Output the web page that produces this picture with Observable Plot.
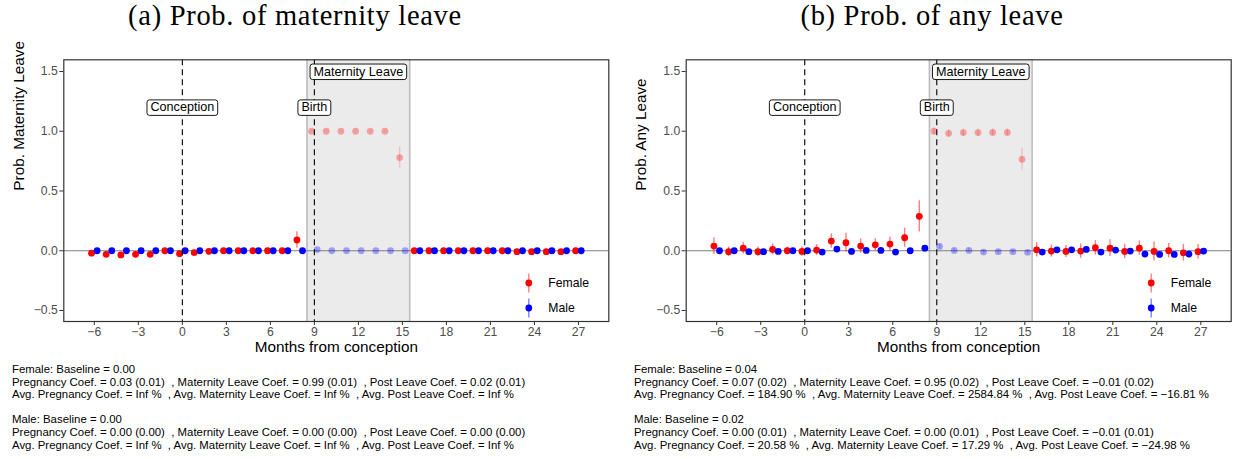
<!DOCTYPE html>
<html>
<head>
<meta charset="utf-8">
<script src="https://cdn.jsdelivr.net/npm/d3@7"></script>
<script src="https://cdn.jsdelivr.net/npm/@observablehq/plot@0.6"></script>
<style>
  body { margin: 0; background: #fff; }
  #page { position: relative; width: 1235px; height: 459px; overflow: hidden; font-family: "Liberation Sans", Arial, sans-serif; }
  .title { position: absolute; top: 0; font-family: "Liberation Serif", serif; font-size: 28.5px; letter-spacing: 0.7px; line-height: 32px; white-space: nowrap; transform: translateX(-50%); color: #000; }
  .panel { position: absolute; top: 40px; }
  .panel svg { overflow: visible; }
  .caption { position: absolute; top: 363px; font-size: 11.4px; line-height: 12.6px; white-space: pre; color: #000; }
</style>
</head>
<body>
<div id="page">
  <div class="title" style="left:295px">(a) Prob. of maternity leave</div>
  <div class="title" style="left:932px">(b) Prob. of any leave</div>
  <div class="panel" id="panelA" style="left:0px"></div>
  <div class="panel" id="panelB" style="left:622px"></div>
  <div class="caption" id="capA" style="left:12px"></div>
  <div class="caption" id="capB" style="left:634px"></div>
</div>
<script>
// Months relative to conception
const months = [-6,-5,-4,-3,-2,-1,0,1,2,3,4,5,6,7,8,9,10,11,12,13,14,15,16,17,18,19,20,21,22,23,24,25,26,27];

// (a) Probability of maternity leave: estimates and 95% CI half-widths
const femaleMaternity   = [-0.02,-0.03,-0.035,-0.03,-0.03,0.0,-0.025,-0.015,-0.005,0.0,0.0,0.0,0.0,0.0,0.09, 1.0,1.0,1.0,1.0,1.0,1.0,0.78, 0,0,0,0,0,0,0,-0.008,-0.008,-0.008,-0.008,0];
const femaleMaternityCI = [0.008,0.008,0.008,0.008,0.008,0.006,0.008,0.008,0.006,0.005,0.005,0.005,0.005,0.005,0.07, 0.005,0.005,0.005,0.005,0.005,0.005,0.09, 0.005,0.005,0.005,0.005,0.005,0.005,0.005,0.006,0.006,0.006,0.006,0.005];
const maleMaternity     = [0,0,0,0,0,0,0,0,0,0,0,0,0,0,0, 0.01,0,0,0,0,0,0, 0,0,0,0,0,0,0,0,0,0,0,0];
const maleMaternityCI   = [0.003,0.003,0.003,0.003,0.003,0.003,0.003,0.003,0.003,0.003,0.003,0.003,0.003,0.003,0.003, 0.004,0.003,0.003,0.003,0.003,0.003,0.003, 0.003,0.003,0.003,0.003,0.003,0.003,0.003,0.003,0.003,0.003,0.003,0.003];

// (b) Probability of any leave
const femaleAny   = [0.039,-0.008,0.022,-0.008,0.011,0.0,-0.006,0.006,0.081,0.067,0.039,0.05,0.056,0.109,0.288, 1.0,0.983,0.989,0.989,0.99,0.99,0.765, 0.008,-0.003,-0.006,-0.003,0.025,0.022,-0.006,0.022,-0.006,0.0,-0.017,-0.008];
const femaleAnyCI = [0.07,0.04,0.05,0.04,0.045,0.03,0.04,0.045,0.06,0.08,0.06,0.05,0.06,0.08,0.13, 0.03,0.03,0.03,0.03,0.03,0.03,0.095, 0.06,0.05,0.05,0.06,0.06,0.07,0.06,0.06,0.08,0.06,0.07,0.06];
const maleAny     = [0,0,-0.008,-0.008,-0.006,0,0,-0.011,0.014,-0.006,0.003,0.003,-0.011,0,0.022, 0.036,0.003,0.003,-0.011,-0.008,-0.008,-0.014, -0.011,0.008,0.008,0.011,-0.011,0.006,-0.003,-0.028,-0.031,-0.031,-0.028,-0.003];
const maleAnyCI   = [0.015,0.015,0.015,0.015,0.015,0.015,0.015,0.015,0.015,0.015,0.015,0.015,0.015,0.015,0.015, 0.02,0.015,0.015,0.015,0.015,0.015,0.015, 0.02,0.02,0.02,0.02,0.02,0.02,0.02,0.025,0.025,0.025,0.025,0.02];

// Leave window and event markers
const leaveWindow = [8.5, 15.5];
const eventLines  = [0, 9];
const eventLabels = ["Conception", "Birth", "Maternity Leave"];
const eventMonths = [0, 9, 12];
const eventLevels = [1.2, 1.2, 1.5];

const xTicks = [-6,-3,0,3,6,9,12,15,18,21,24,27];
const yTicks = [-0.5,0,0.5,1,1.5];

const sexes  = ["Female", "Male"];
const colors = ["#ff0000", "#0000ff"];
const dodge  = [-0.19, 0.19];

// Summary text under each panel
const captionA = [
  "Female: Baseline = 0.00",
  "Pregnancy Coef. = 0.03 (0.01)  , Maternity Leave Coef. = 0.99 (0.01)  , Post Leave Coef. = 0.02 (0.01)",
  "Avg. Pregnancy Coef. = Inf %  , Avg. Maternity Leave Coef. = Inf %  , Avg. Post Leave Coef. = Inf %",
  "",
  "Male: Baseline = 0.00",
  "Pregnancy Coef. = 0.00 (0.00)  , Maternity Leave Coef. = 0.00 (0.00)  , Post Leave Coef. = 0.00 (0.00)",
  "Avg. Pregnancy Coef. = Inf %  , Avg. Maternity Leave Coef. = Inf %  , Avg. Post Leave Coef. = Inf %"
];
const captionB = [
  "Female: Baseline = 0.04",
  "Pregnancy Coef. = 0.07 (0.02)  , Maternity Leave Coef. = 0.95 (0.02)  , Post Leave Coef. = \u22120.01 (0.02)",
  "Avg. Pregnancy Coef. = 184.90 %  , Avg. Maternity Leave Coef. = 2584.84 %  , Avg. Post Leave Coef. = \u221216.81 %",
  "",
  "Male: Baseline = 0.02",
  "Pregnancy Coef. = 0.00 (0.01)  , Maternity Leave Coef. = 0.00 (0.01)  , Post Leave Coef. = \u22120.01 (0.01)",
  "Avg. Pregnancy Coef. = 20.58 %  , Avg. Maternity Leave Coef. = 17.29 %  , Avg. Post Leave Coef. = \u221224.98 %"
];

const fmtY = d3.format(".1f");
const fmtX = d3.format("d");

function rowsFor(est, ci, s) {
  return months.map((m, i) => ({
    month: m, x: m + dodge[s], est: est[i], lo: est[i] - ci[i], hi: est[i] + ci[i],
    leave: m >= leaveWindow[0] && m <= leaveWindow[1]
  }));
}

function seriesMarks(rows, s) {
  const out = rows.filter(d => !d.leave), inn = rows.filter(d => d.leave);
  return [
    Plot.ruleX(out, {x: "x", y1: "lo", y2: "hi", stroke: colors[s], strokeOpacity: 0.5, strokeWidth: 1.4}),
    Plot.ruleX(inn, {x: "x", y1: "lo", y2: "hi", stroke: colors[s], strokeOpacity: 0.18, strokeWidth: 1.4}),
    Plot.dot(out, {x: "x", y: "est", r: 3.4, fill: colors[s], stroke: "none"}),
    Plot.dot(inn, {x: "x", y: "est", r: 3.4, fill: colors[s], fillOpacity: 0.32, stroke: "none"})
  ];
}

function panel(el, width, mLeft, mRight, yTitle, series) {
  const events = eventLabels.map((t, i) => ({label: t, month: eventMonths[i], level: eventLevels[i]}));
  const chart = Plot.plot({
    width, height: 330,
    marginLeft: mLeft, marginRight: mRight, marginTop: 19.3, marginBottom: 49,
    style: {fontFamily: "'Liberation Sans', Arial, sans-serif", fontSize: "12.2px", background: "transparent", overflow: "visible"},
    x: {domain: [-8.08, 29.07]},
    y: {domain: [-0.592, 1.598]},
    marks: [
      Plot.rect([leaveWindow], {x1: d => d[0], x2: d => d[1], fill: "#ebebeb"}),
      Plot.ruleX(leaveWindow, {stroke: "#bdbdbd", strokeWidth: 1.6}),
      Plot.ruleY([0], {stroke: "#7f7f7f", strokeWidth: 1.1}),
      ...series.flatMap(([est, ci], s) => seriesMarks(rowsFor(est, ci, s), s)),
      Plot.ruleX(eventLines, {stroke: "#000", strokeWidth: 1.1, strokeDasharray: "6,4"}),
      Plot.text(events, {x: "month", y: "level", text: "label", fontSize: 12.6, fill: "#000"}),
      Plot.frame({stroke: "#333", strokeWidth: 1.2}),
      Plot.axisX({ticks: xTicks, tickFormat: fmtX, tickSize: 4, tickPadding: 2, label: null, stroke: "#333", fill: "#4d4d4d", fontSize: 12.2}),
      Plot.axisY({ticks: yTicks, tickFormat: fmtY, tickSize: 4, tickPadding: 2, label: null, stroke: "#333", fill: "#4d4d4d", fontSize: 12.2}),
      Plot.text(["Months from conception"], {frameAnchor: "bottom", dy: 30, fontSize: 15.3, fill: "#000"}),
      Plot.text([yTitle], {frameAnchor: "left", dx: -45, rotate: -90, fontSize: 15.3, fill: "#000"})
    ]
  });
  el.appendChild(chart);

  // rounded boxes behind the event labels
  const svg = d3.select(chart);
  svg.selectAll("text").filter(function () {
    return this.childElementCount === 0 && eventLabels.includes(this.textContent);
  }).each(function () {
    const b = this.getBBox();
    const r = d3.select(this.parentNode).insert("rect", () => this)
      .attr("x", b.x - 3.5).attr("y", b.y - 0.5).attr("width", b.width + 7).attr("height", b.height + 1.5)
      .attr("rx", 2.5).attr("fill", "#fff").attr("stroke", "#000").attr("stroke-width", 0.9);
    const t = this.getAttribute("transform");
    if (t) r.attr("transform", t);
  });

  // legend inside the panel, bottom right
  const xr = chart.scale("x").range, yr = chart.scale("y").range;
  const right = Math.max(...xr), bottom = Math.max(...yr);
  const lg = svg.append("g").attr("font-family", "'Liberation Sans', Arial, sans-serif")
    .attr("font-size", 12.2).attr("text-anchor", "start");
  sexes.forEach((name, s) => {
    const cx = right - 79.5, cy = bottom - 38 + s * 25;
    lg.append("line").attr("x1", cx).attr("x2", cx).attr("y1", cy - 9.5).attr("y2", cy + 9.5)
      .attr("stroke", colors[s]).attr("stroke-opacity", 0.5).attr("stroke-width", 1.4);
    lg.append("circle").attr("cx", cx).attr("cy", cy).attr("r", 3.4).attr("fill", colors[s]);
    lg.append("text").attr("x", cx + 19.5).attr("y", cy).attr("dy", "0.35em").attr("fill", "#000").text(name);
  });
}

panel(document.getElementById("panelA"), 617, 63.3, 8.7, "Prob. Maternity Leave",
  [[femaleMaternity, femaleMaternityCI], [maleMaternity, maleMaternityCI]]);
panel(document.getElementById("panelB"), 613, 63.7, 4.3, "Prob. Any Leave",
  [[femaleAny, femaleAnyCI], [maleAny, maleAnyCI]]);

document.getElementById("capA").textContent = captionA.join("\n");
document.getElementById("capB").textContent = captionB.join("\n");
</script>
</body>
</html>
